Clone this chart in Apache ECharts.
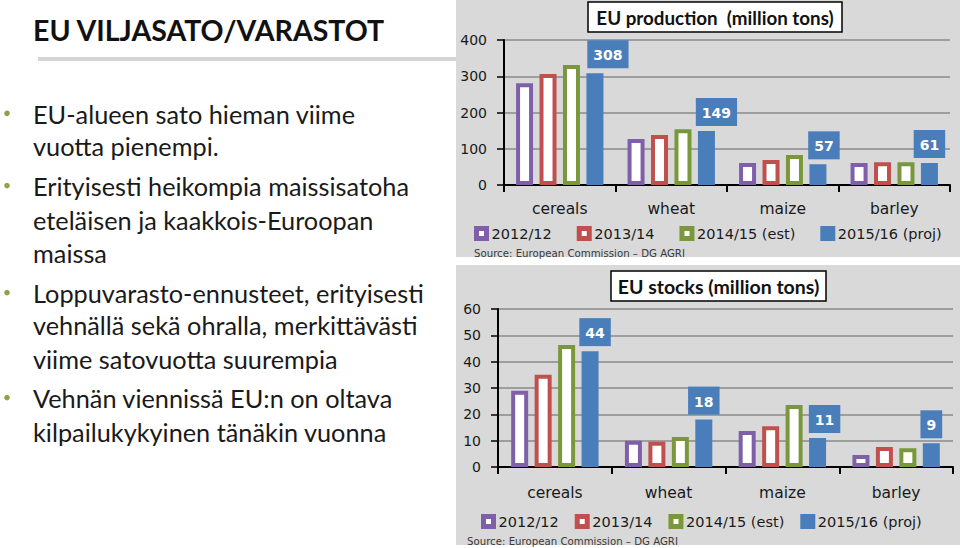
<!DOCTYPE html>
<html>
<head>
<meta charset="utf-8">
<script src="https://cdn.jsdelivr.net/npm/echarts@6/dist/echarts.min.js"></script>
<style>
html,body{margin:0;padding:0;background:#fff;}
#chart{width:960px;height:548px;}
</style>
</head>
<body>
<div id="chart"></div>
<script>
// ---- data ----
const categories = ['cereals', 'wheat', 'maize', 'barley'];
const seriesNames = ['2012/12', '2013/14', '2014/15 (est)', '2015/16 (proj)'];
const production2012 = [281, 127, 61, 61];
const production2013 = [306, 138, 69, 63];
const production2014 = [331, 154, 83, 63];
const production2015 = [308, 149, 57, 61];
const stocks2012 = [29, 10, 13.7, 4.6];
const stocks2013 = [35, 9.6, 15.5, 7.6];
const stocks2014 = [46.3, 11.4, 23.5, 7.1];
const stocks2015 = [44, 18, 11, 9];
const productionTicks = [0, 100, 200, 300, 400];
const stocksTicks = [0, 10, 20, 30, 40, 50, 60];
const chartTitles = ['EU production  (million tons)', 'EU stocks (million tons)'];
const sourceText = 'Source: European Commission \u2013 DG AGRI';
const slideTitle = 'EU VILJASATO/VARASTOT';
const bullets = [
  ['EU-alueen sato hieman viime', 'vuotta pienempi.'],
  ['Erityisesti heikompia maissisatoha', 'eteläisen ja kaakkois-Euroopan', 'maissa'],
  ['Loppuvarasto-ennusteet, erityisesti', 'vehnällä sekä ohralla, merkittävästi', 'viime satovuotta suurempia'],
  ['Vehnän viennissä EU:n on oltava', 'kilpailukykyinen tänäkin vuonna']
];

// ---- styles ----
const colors = ['#7f60a8', '#c0504d', '#7a983b', '#4a7ebb'];
const chartFont = 'DejaVu Sans';
const textColor = '#1a1a1a';

const chart = echarts.init(document.getElementById('chart'), null, {renderer: 'svg'});

function yAxis(grid, ticks) {
  return {
    type: 'value', gridIndex: grid,
    min: ticks[0], max: ticks[ticks.length - 1], interval: ticks[1] - ticks[0],
    axisLine: {show: true, lineStyle: {color: '#000', width: 2}},
    axisTick: {show: true, length: 7, lineStyle: {color: '#000', width: 1.5}},
    splitLine: {show: true, lineStyle: {color: '#8a8a8a', width: 1.5}},
    axisLabel: {fontFamily: chartFont, fontSize: 14, color: textColor, margin: 17}
  };
}
function xAxis(grid, margin) {
  return {
    type: 'category', gridIndex: grid, data: categories,
    axisLine: {show: true, lineStyle: {color: '#000', width: 2}},
    axisTick: {show: true, length: 7, lineStyle: {color: '#000', width: 2}},
    axisLabel: {fontFamily: chartFont, fontSize: 15.5, color: textColor, margin: margin}
  };
}

const labelShiftTop = [13, 10, 6, 0];
const labelShiftBottom = [5, 0, 7, 0];

function makeSeries(grid, arrays, shifts) {
  return arrays.map((arr, i) => {
    const solid = i === 3;
    return {
      name: seriesNames[i], type: 'bar', xAxisIndex: grid, yAxisIndex: grid,
      barWidth: 17, barGap: '38%',
      itemStyle: solid
        ? {color: colors[i], borderColor: colors[i], borderWidth: 2}
        : {color: '#ffffff', borderColor: colors[i], borderWidth: 4},
      data: solid ? arr.map((v, k) => ({value: v, label: {offset: [shifts[k], 0]}})) : arr,
      label: solid ? {
        show: true, position: 'top', distance: 5,
        backgroundColor: colors[3], color: '#fff', fontWeight: 'bold',
        fontFamily: chartFont, fontSize: 14, padding: [8, 6, 6, 6]
      } : {show: false},
      emphasis: {disabled: true}, animation: false
    };
  });
}

function legend(left, top, gap) {
  return {
    left: left, top: top, itemGap: gap, itemWidth: 10, itemHeight: 10, icon: 'rect',
    selectedMode: false,
    textStyle: {fontFamily: chartFont, fontSize: 14.5, color: textColor},
    data: seriesNames.map((n, i) => ({
      name: n,
      itemStyle: i === 3
        ? {color: colors[i], borderColor: colors[i], borderWidth: 5}
        : {color: '#ffffff', borderColor: colors[i], borderWidth: 5}
    }))
  };
}

function txt(x, y, text, size, opts) {
  return Object.assign({
    type: 'text', x: x, y: y, silent: true,
    style: Object.assign({text: text, fontSize: size, fontFamily: 'Lato', fill: '#1a1a1a', textVerticalAlign: 'middle'}, opts || {})
  });
}

// left text graphics
const leftGraphics = [];
leftGraphics.push({type: 'rect', shape: {x: 38, y: 57, width: 418, height: 4}, style: {fill: '#d4d4d4'}, silent: true});
leftGraphics.push(txt(33, 29.5, slideTitle, 28.5, {fontWeight: 'bold', fill: '#111'}));
const bulletBaselines = [[122.7, 155], [195, 229, 262], [302, 334, 368], [407, 441]];
bullets.forEach((lines, b) => {
  leftGraphics.push({type: 'circle', shape: {cx: 7, cy: bulletBaselines[b][0] - 9.4, r: 2.8}, style: {fill: '#8ea248'}, silent: true});
  lines.forEach((ln, j) => {
    leftGraphics.push(txt(33, bulletBaselines[b][j] - 8.8, ln, 25.3));
  });
});

const panelGraphics = [
  {type: 'rect', z: -10, shape: {x: 456, y: 0, width: 504, height: 257}, style: {fill: '#d9d9d9'}, silent: true},
  {type: 'rect', z: -10, shape: {x: 456, y: 265, width: 504, height: 280}, style: {fill: '#d9d9d9'}, silent: true},
  {type: 'rect', shape: {x: 588, y: 2, width: 254, height: 30}, style: {fill: '#fff', stroke: '#000', lineWidth: 1.5}, silent: true},
  txt(715, 17.5, chartTitles[0], 18.8, {fontWeight: 'bold', fill: '#111', textAlign: 'center'}),
  {type: 'rect', shape: {x: 611, y: 271, width: 215, height: 30}, style: {fill: '#fff', stroke: '#000', lineWidth: 1.5}, silent: true},
  txt(718.5, 286.5, chartTitles[1], 19.5, {fontWeight: 'bold', fill: '#111', textAlign: 'center'}),
  txt(474, 253, sourceText, 10.2, {fontFamily: chartFont, fill: '#3a3a3a'}),
  txt(467, 541, sourceText, 10.2, {fontFamily: chartFont, fill: '#3a3a3a'})
];

chart.setOption({
  animation: false,
  backgroundColor: '#ffffff',
  grid: [
    {left: 504, right: 10, top: 40, height: 145, containLabel: false},
    {left: 498, right: 7, top: 309, height: 158, containLabel: false}
  ],
  xAxis: [xAxis(0, 16), xAxis(1, 18)],
  yAxis: [yAxis(0, productionTicks), yAxis(1, stocksTicks)],
  legend: [legend(469, 221, 25), legend(476, 509, 16)],
  graphic: {elements: panelGraphics.concat(leftGraphics)},
  series: makeSeries(0, [production2012, production2013, production2014, production2015], labelShiftTop)
    .concat(makeSeries(1, [stocks2012, stocks2013, stocks2014, stocks2015], labelShiftBottom))
});
</script>
</body>
</html>
